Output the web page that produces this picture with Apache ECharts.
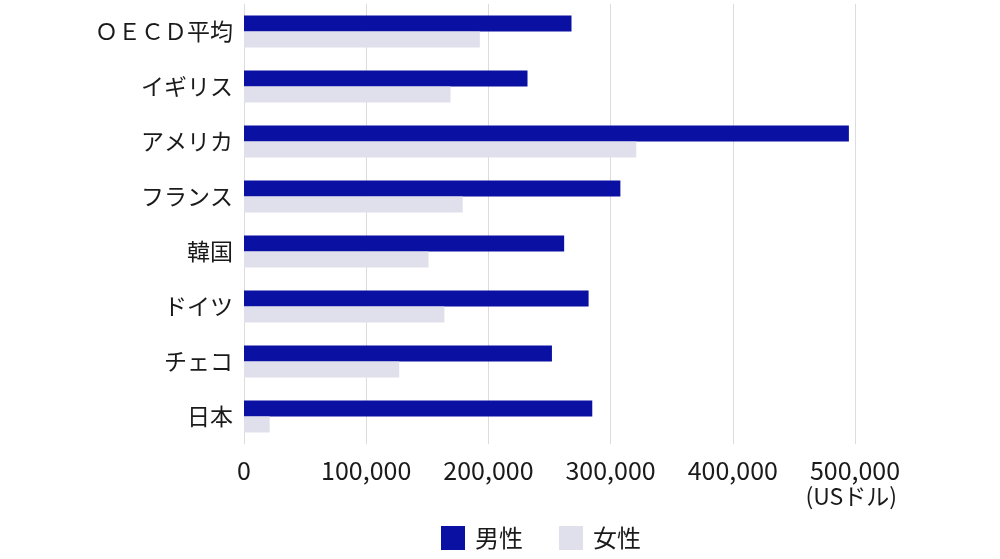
<!DOCTYPE html>
<html>
<head>
<meta charset="utf-8">
<script src="https://cdn.jsdelivr.net/npm/echarts@6/dist/echarts.min.js"></script>
<style>
  html, body { margin: 0; padding: 0; background: #fff; }
  #container { width: 1000px; height: 559px; }
</style>
</head>
<body>
<div id="container"></div>
<script>
    // 国別（上から順）
    var categories = ['ＯＥＣＤ平均', 'イギリス', 'アメリカ', 'フランス', '韓国', 'ドイツ', 'チェコ', '日本'];
    var maleValues = [268000, 232000, 495000, 308000, 262000, 282000, 252000, 285000];
    var femaleValues = [193000, 169000, 321000, 179000, 151000, 164000, 127000, 21000];
    var seriesNames = ['男性', '女性'];
    var unitLabel = '(USドル)';

    var FONT = '"Noto Sans CJK JP", "Noto Sans", sans-serif';

    var dom = document.getElementById('container');
    var myChart = echarts.init(dom);

    var option = {
        animation: false,
        textStyle: { fontFamily: FONT },
        grid: {
            left: 244,
            right: 145,
            top: 4,
            bottom: 115
        },
        legend: {
            left: 436,
            top: 521,
            itemWidth: 24,
            itemHeight: 24,
            itemGap: 36,
            icon: 'rect',
            textStyle: { fontSize: 24, color: '#1a1a1a', fontFamily: FONT, padding: [0, 0, 0, 5] },
            data: seriesNames
        },
        xAxis: {
            type: 'value',
            min: 0,
            max: 500000,
            interval: 100000,
            axisLine: { show: false },
            axisTick: { show: false },
            splitLine: { lineStyle: { color: '#dcdcdc', width: 1 } },
            axisLabel: {
                margin: 14,
                fontSize: 25,
                color: '#1a1a1a',
                fontFamily: FONT,
                formatter: function (v) { return v.toLocaleString('en-US'); }
            }
        },
        yAxis: {
            type: 'category',
            inverse: true,
            data: categories,
            axisLine: { show: false },
            axisTick: { show: false },
            axisLabel: {
                margin: 11,
                fontSize: 23,
                color: '#1a1a1a',
                fontFamily: FONT
            }
        },
        graphic: [{
            type: 'text',
            right: 103,
            top: 485,
            style: { text: unitLabel, fontSize: 23, fill: '#1a1a1a', fontFamily: FONT }
        }],
        series: [
            {
                name: seriesNames[0],
                type: 'bar',
                data: maleValues,
                barWidth: 16,
                barGap: '0%',
                itemStyle: { color: '#0a10a2' }
            },
            {
                name: seriesNames[1],
                type: 'bar',
                data: femaleValues,
                barWidth: 16,
                itemStyle: { color: '#e0e0ec' }
            }
        ]
    };

    if (option && typeof option === 'object') {
        myChart.setOption(option);
    }
</script>
</body>
</html>
